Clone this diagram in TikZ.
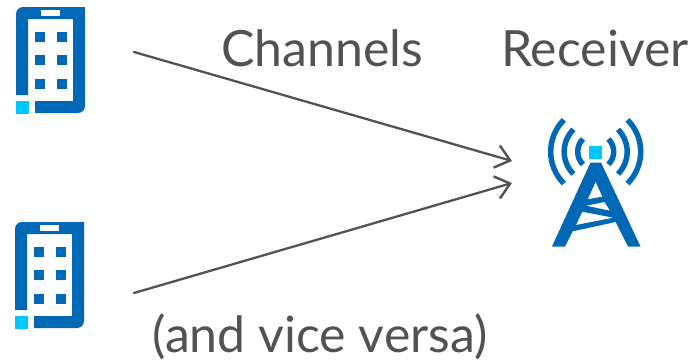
\documentclass[tikz,border=0pt]{standalone}
\usepackage{fontspec}
\setmainfont{Lato}
\usetikzlibrary{arrows.meta}
\definecolor{iconblue}{HTML}{0068B5}
\definecolor{iconcyan}{HTML}{00C7FD}
\definecolor{linegray}{HTML}{525252}
\tikzset{
    caption/.style={font=\fontsize{50}{50}\selectfont, text=linegray, inner sep=0pt},
    arrow/.style={linegray, line width=2.3pt, line cap=round, -{Straight Barb[length=14pt,width=23pt,line width=2.4pt]}},
    wave/.style={iconblue, line width=5.5pt},
    phone/.pic={
        \fill [iconblue] (16,95) [rounded corners=7pt] -- (16,7) -- (50,7) [sharp corners] -- (85,7) -- (85,60) [rounded corners=7pt] -- (85,113) -- (50,113) [sharp corners] -- (35,113) -- (35,101) -- (73,101) -- (73,19) -- (28,19) -- (28,95) -- cycle;
        \fill [white] (41,10) rectangle (60,16);
        \fill [iconcyan] (16,101) rectangle (29,114);
        \foreach \y in {32,55,79} {
            \fill [iconblue] (35,\y) rectangle +(10,10);
            \fill [iconblue] (57,\y) rectangle +(10,10);
        }
    }
}
\begin{document}
\begin{tikzpicture}[x=1pt, y=-1pt]
    \useasboundingbox (0,0) rectangle (694,364);

    % Phones
    \pic at (0,0) {phone};
    \pic at (-1,215) {phone};

    % Tower
    \foreach \r in {18,31.5,45} {
        \draw [wave] (595.7,151.7) ++(135:\r) arc [start angle=135, end angle=225, radius=\r];
        \draw [wave] (595.7,151.7) ++(45:\r) arc [start angle=45, end angle=-45, radius=\r];
    }
    \fill [iconcyan] (589,146) rectangle (602,159);
    \fill [iconblue, even odd rule] (590.5,162.5) -- (601,162.5) -- (640.5,246.5) -- (628,246.5) -- (615.7,222) -- (572.7,231.3) -- (565,246.5) -- (552,246.5) -- cycle
        (595.7,181.7) -- (602.3,196.7) -- (587.7,199.3) -- cycle
        (586,205.7) -- (604.5,202) -- (610,210.7) -- cycle
        (582.3,211.7) -- (613.3,217.7) -- (576,225) -- cycle;

    % Anchors
    \coordinate (topstart) at (134,52);
    \coordinate (botstart) at (134,293);
    \coordinate (toptip) at (512,161);
    \coordinate (bottip) at (512,183);

    % Arrows
    \draw [arrow] (topstart) -- (toptip);
    \draw [arrow] (botstart) -- (bottip);

    % Captions
    \node (channels) [caption] at (322,48) {Channels};
    \node (receiver) [caption] at (595,48) {Receiver};
    \node (viceversa) [caption] at (320,337) {(and vice versa)};
\end{tikzpicture}
\end{document}
